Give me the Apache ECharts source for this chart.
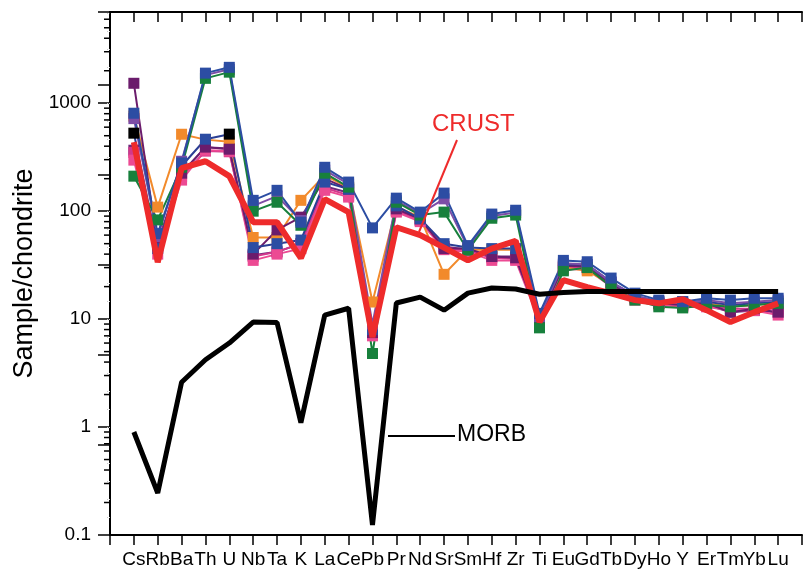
<!DOCTYPE html>
<html>
<head>
<meta charset="utf-8">
<script src="https://cdn.jsdelivr.net/npm/echarts@6/dist/echarts.min.js"></script>
<style>
  html, body { margin: 0; padding: 0; background: #fff; }
  #chart { width: 805px; height: 570px; }
</style>
</head>
<body>
<div id="chart"></div>
<script>
// Element order along the x axis
const categories = ['Cs','Rb','Ba','Th','U','Nb','Ta','K','La','Ce','Pb','Pr','Nd','Sr','Sm','Hf','Zr','Ti','Eu','Gd','Tb','Dy','Ho','Y','Er','Tm','Yb','Lu'];

// Y-axis decade labels
const yTickLabels = [0.1, 1, 10, 100, 1000];

// Chondrite-normalised sample patterns
const sampleBlue    = [808, 62, 280, 1900, 2150, 126, 156, 79, 255, 186, 70, 132, 98, 147, 48, 94, 102, 11.3, 35, 34, 24, 17.4, 15, 14.5, 15.6, 15, 15.6, 15.6];
const sampleGreen   = [211, 83, 255, 1700, 1940, 100, 121, 74, 225, 167, 4.8, 121, 92, 98, 43.5, 86, 92, 8.3, 28, 30, 20, 15, 13, 12.7, 13.5, 13, 13.5, 14];
const sampleViolet  = [720, 58, 290, 1820, 2060, 112, 138, 82, 240, 178, 9, 125, 95, 130, 46, 90, 97, 10.5, 33, 32, 22, 16.5, 14.5, 14, 15, 14, 14.5, 15];
const samplePurple  = [1530, 48, 225, 392, 375, 40, 67, 88, 200, 160, 7.5, 105, 85, 45, 45, 38, 37, 10, 31, 31, 21, 16, 14, 13.5, 14, 11.6, 12.5, 11.6];
const sampleOrange  = [760, 109, 516, 460, 440, 57, 57, 126, 215, 165, 14.4, 110, 88, 26, 44, 44, 44, 11, 30, 28, 21, 16, 14, 14, 14, 13, 13.5, 14];
const sampleNavy    = [528, 45, 262, 464, 517, 46, 50, 54, 186, 160, 8, 112, 85, 50, 46, 45, 45, 11, 32, 32, 22, 16.5, 14.5, 14.5, 14.5, 13.5, 14, 14.5];
const samplePink    = [297, 40, 194, 367, 360, 35, 40, 45, 156, 135, 7, 98, 80, 44, 42, 35, 35, 9.5, 29, 29, 20, 15, 13.5, 13, 13, 12, 12, 10.9];
const sampleMagenta = [350, 50, 210, 360, 355, 38, 42, 50, 165, 140, 7.5, 100, 82, 46, 43, 37, 36, 10, 30, 30, 20.5, 15.5, 14, 13, 13.5, 12.5, 12.5, 12.5];
const samplePlum    = [367, 52, 225, 390, 380, 39, 42, 50, 170, 148, 8, 102, 83, 47, 44, 38, 38, 10.5, 31, 30, 21, 16, 14, 13.5, 13.5, 11.6, 12, 11.6];

// elements where the navy sample is plotted with a black marker
const navyBlackMarkers = ['Cs', 'U'];

// Reference compositions
const crust = [436, 33.7, 250, 290, 211, 79, 79, 36.7, 129, 98, 6.8, 71, 60, 46, 35, 45, 53, 9.4, 23, 19.8, 17.3, 15, 14, 15.3, 12.1, 9.4, 11.6, 14];
const morb  = [0.9, 0.245, 2.6, 4.2, 6.0, 9.4, 9.3, 1.1, 10.9, 12.6, 0.124, 14.1, 16, 12.1, 17.4, 19.4, 19, 17.0, 17.6, 18, 18, 18, 18, 18, 18, 18, 18, 18];

const FONT = '"Liberation Sans", Arial, sans-serif';

const toPairs = vals => categories.map((c, i) => [i + 1, vals[i]]);

function sampleSeries(vals, lineColor, markColor) {
  return {
    type: 'line',
    data: toPairs(vals),
    symbol: 'rect',
    symbolSize: 11,
    lineStyle: { color: lineColor, width: 2 },
    itemStyle: { color: markColor || lineColor },
    z: 3,
    silent: true,
    animation: false
  };
}

// minor log ticks at 2..9 of each decade
const minorTicks = [];
for (let e = -1; e <= 3; e++) {
  for (let m = 2; m <= 9; m++) {
    const v = m * Math.pow(10, e);
    if (v < 7000) minorTicks.push(+v.toPrecision(3));
  }
}

const chart = echarts.init(document.getElementById('chart'), null, { renderer: 'canvas' });

const option = {
  animation: false,
  backgroundColor: '#ffffff',
  grid: { left: 110, top: 12, width: 702, height: 523, containLabel: false },
  xAxis: [
    {
      type: 'value', min: 0, max: 29, interval: 1, position: 'bottom',
      axisLine: { show: true, lineStyle: { color: '#000', width: 2 } },
      axisTick: { show: true, inside: false, length: 10, lineStyle: { color: '#000', width: 1.5 } },
      axisLabel: {
        show: true, margin: 15, color: '#000', fontSize: 19, fontFamily: FONT,
        formatter: v => (v >= 1 && v <= categories.length ? categories[v - 1] : '')
      },
      splitLine: { show: false }
    },
    {
      type: 'value', min: 0, max: 29, interval: 1, position: 'top',
      axisLine: { show: true, lineStyle: { color: '#000', width: 2 } },
      axisTick: { show: true, inside: true, length: 10, lineStyle: { color: '#000', width: 1.5 } },
      axisLabel: { show: false },
      splitLine: { show: false }
    }
  ],
  yAxis: [
    {
      type: 'log', logBase: 10, min: 0.1, max: 7000, position: 'left',
      name: 'Sample/chondrite', nameLocation: 'middle', nameGap: 70,
      nameTextStyle: { color: '#000', fontSize: 27, fontFamily: FONT },
      axisLine: { show: true, lineStyle: { color: '#000', width: 2 } },
      axisTick: { show: true, inside: false, length: 12, lineStyle: { color: '#000', width: 1.5 } },
      axisLabel: {
        show: true, margin: 19, color: '#000', fontSize: 19, fontFamily: FONT,
        formatter: v => {
          const hit = yTickLabels.find(t => Math.abs(Math.log10(t) - Math.log10(v)) < 1e-6);
          return hit !== undefined ? String(hit) : '';
        }
      },
      splitLine: { show: false }
    },
    {
      type: 'value', min: 0, max: 5.81, interval: 1, position: 'right',
      axisLine: { show: true, lineStyle: { color: '#000', width: 2 } },
      axisTick: { show: true, inside: true, length: 12, lineStyle: { color: '#000', width: 1.5 } },
      minorTick: { show: true, splitNumber: 5, length: 4, lineStyle: { color: '#c8c8c8', width: 1, type: 'dotted' } },
      axisLabel: { show: false },
      splitLine: { show: false }
    }
  ],
  series: [
    {
      type: 'custom',
      xAxisIndex: 0, yAxisIndex: 0,
      data: minorTicks.map(v => [0, v]),
      clip: false, silent: true, z: 10,
      renderItem: (params, api) => {
        const p = api.coord([0, api.value(1)]);
        return {
          type: 'line',
          shape: { x1: p[0] - 6, y1: p[1], x2: p[0], y2: p[1] },
          style: { stroke: '#000', lineWidth: 1.5 }
        };
      }
    },
    sampleSeries(samplePlum, '#6E2A7A'),
    sampleSeries(sampleMagenta, '#D2378B'),
    sampleSeries(samplePink, '#EC4A93'),
    sampleSeries(sampleOrange, '#F28A2B'),
    sampleSeries(samplePurple, '#6B1C6C'),
    sampleSeries(sampleNavy, '#2A3E94',
      p => navyBlackMarkers.includes(categories[p.dataIndex]) ? '#000000' : '#2C4DA3'),
    sampleSeries(sampleViolet, '#7D4DA6'),
    sampleSeries(sampleGreen, '#17803C'),
    sampleSeries(sampleBlue, '#2C4DA3'),
    {
      name: 'CRUST', type: 'line', data: toPairs(crust), symbol: 'none',
      lineStyle: { color: '#EE2B2B', width: 6 }, z: 5, silent: true
    },
    {
      name: 'MORB', type: 'line', data: toPairs(morb), symbol: 'none',
      lineStyle: { color: '#000000', width: 5 }, z: 6, silent: true
    }
  ],
  graphic: [
    { type: 'text', left: 432, top: 112, z: 20,
      style: { text: 'CRUST', fill: '#EE2B2B', font: '24px ' + FONT } },
    { type: 'line', z: 20, shape: { x1: 457, y1: 140, x2: 419, y2: 232 },
      style: { stroke: '#EE2B2B', lineWidth: 2 } },
    { type: 'text', left: 457, top: 423, z: 20,
      style: { text: 'MORB', fill: '#000', font: '23px ' + FONT } },
    { type: 'line', z: 20, shape: { x1: 388, y1: 436, x2: 455, y2: 436 },
      style: { stroke: '#000', lineWidth: 2 } }
  ]
};

chart.setOption(option);
</script>
</body>
</html>
